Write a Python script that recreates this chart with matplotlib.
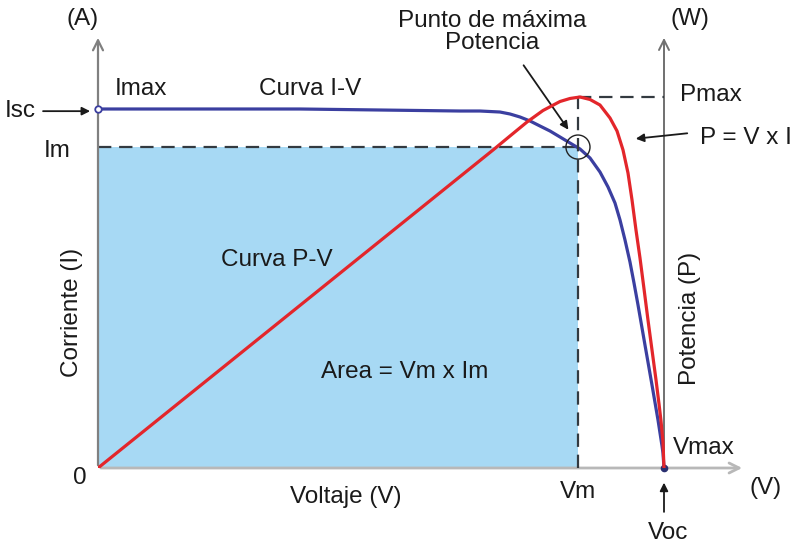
import numpy as np
import matplotlib
matplotlib.use('Agg')
import matplotlib.pyplot as plt

plt.rcParams['font.family'] = ['Liberation Sans', 'DejaVu Sans']

# curve I-V (voltage in % of Voc, current in % of Isc)
v_iv = [0, 35.69, 63.96, 67.49, 71.02, 72.79, 74.56, 76.33, 78.09, 79.86, 81.63, 83.39, 85.16,
        86.93, 88.69, 90.11, 91.34, 92.23, 93.11, 93.99, 94.70, 95.41, 96.64, 97.88, 98.94, 99.65,
        99.82, 100]
i_iv = [100, 100, 99.44, 99.44, 99.16, 98.61, 97.77, 96.66, 95.26, 93.87, 92.20, 90.53, 88.86,
        86.35, 82.45, 78.27, 73.82, 69.08, 63.51, 57.38, 51.53, 45.40, 34.26, 23.12, 13.37, 6.13,
        4.18, 0]

# curve P-V (power in % of Pmax)
v_pv = [0, 69.79, 72.79, 75.80, 78.62, 81.63, 83.39, 85.16, 86.93, 88.69, 90.46, 91.70, 92.76,
        93.64, 94.35, 95.05, 95.76, 96.47, 97.17, 97.88, 98.59, 99.12, 99.47, 99.82, 100]
p_pv = [0, 85.71, 89.49, 93.26, 96.36, 98.79, 99.60, 100, 99.33, 97.84, 94.34, 90.84, 85.71,
        79.51, 72.24, 64.15, 56.60, 48.25, 39.89, 31.81, 23.72, 17.25, 12.67, 7.01, 0]

Vm, Im = 84.8, 89.4
Pmax = 100
Voc, Isc = 100, 100

fig = plt.figure(figsize=(8, 5.5), dpi=100)
ax = fig.add_axes([98/800, (550-468)/550, (750-98)/800, (468-30)/550])
ax.set_xlim(0, (750-98)/5.66)
ax.set_ylim(0, (468-30)/3.59)
ax2 = ax.twinx()
ax2.set_position(ax.get_position())
ax2.set_ylim(0, (468-30)/3.71)
for a in (ax, ax2):
    a.axis('off')

txt = dict(fontsize=17.5, color='#1a1a1a', clip_on=False)

# area Vm x Im
ax.fill_between([0, Vm], 0, Im, color='#a7d9f4', zorder=1, lw=0)
dash = dict(color='#333a40', lw=1.6, ls=(0, (6, 3.5)), zorder=2)
ax.plot([0, Vm], [Im, Im], **dash)
ax2.plot([Vm, Vm], [0, Pmax], **dash)
ax2.plot([Vm, Voc], [Pmax, Pmax], **dash)

# curves
ax.plot(v_iv, i_iv, color='#3b3fa0', lw=2.3, zorder=4, solid_joinstyle='round')
ax2.plot(v_pv, p_pv, color='#e3262b', lw=2.3, zorder=3, solid_joinstyle='round')

# axes with arrows
ax.annotate('', xy=(0, 120.6), xytext=(0, 0),
            arrowprops=dict(arrowstyle='->', color='#808080', lw=1.6, mutation_scale=18))
ax.annotate('', xy=(114.3, 0), xytext=(0, 0),
            arrowprops=dict(arrowstyle='->', color='#b8b8b8', lw=2.0, mutation_scale=18))
ax.annotate('', xy=(Voc, 120.6), xytext=(Voc, 0),
            arrowprops=dict(arrowstyle='->', color='#707070', lw=1.4, mutation_scale=18))

# points
ax.scatter([Vm], [Im], s=300, facecolor='none', edgecolor='#222', lw=1.0, zorder=6)
ax.scatter([0], [Isc], s=22, facecolor='white', edgecolor='#3b3fa0', lw=1.3, zorder=6, clip_on=False)
ax.scatter([Voc], [0], s=20, color='#2a2f70', zorder=6, clip_on=False)

# labels
ax.text(-2.8, 125, '(A)', ha='center', va='center', **txt)
ax.text(104.6, 125, '(W)', ha='center', va='center', **txt)
ax.text(69.6, 121.4, 'Punto de máxima\nPotencia', ha='center', va='center', linespacing=1.0, **txt)
ax.text(3.0, 105.6, 'Imax', ha='left', va='center', **txt)
ax.text(37.5, 105.6, 'Curva I-V', ha='center', va='center', **txt)
ax.text(-16.4, 99.4, 'Isc', ha='left', va='center', **txt)
ax.text(-7.2, 88.3, 'Im', ha='center', va='center', **txt)
ax.text(102.8, 104, 'Pmax', ha='left', va='center', **txt)
ax.text(106.4, 91.9, 'P = V x I', ha='left', va='center', **txt)
ax.text(31.6, 57.8, 'Curva P-V', ha='center', va='center', **txt)
ax.text(54.2, 26.7, 'Area = Vm x Im', ha='center', va='center', **txt)
ax.text(-4.6, 43.3, 'Corriente (I)', ha='center', va='center', rotation=90, **txt)
ax.text(104.6, 41.7, 'Potencia (P)', ha='center', va='center', rotation=90, **txt)
ax.text(-3.2, -2.8, '0', ha='center', va='center', **txt)
ax.text(43.8, -8, 'Voltaje (V)', ha='center', va='center', **txt)
ax.text(Vm, -6.7, 'Vm', ha='center', va='center', **txt)
ax.text(101.6, 5.5, 'Vmax', ha='left', va='center', **txt)
ax.text(118, -5.6, '(V)', ha='center', va='center', **txt)
ax.text(100.7, -18, 'Voc', ha='center', va='center', **txt)

# pointer arrows
arr = dict(arrowstyle='-|>', color='#1a1a1a', lw=1.3, mutation_scale=12)
ax.annotate('', xy=(-0.9, 99.4), xytext=(-10.2, 99.4), arrowprops=arr, annotation_clip=False)
ax.annotate('', xy=(Voc, -3.3), xytext=(Voc, -13), arrowprops=arr, annotation_clip=False)
ax.annotate('', xy=((570-98)/5.66, (468-132)/3.59), xytext=((522-98)/5.66, (468-63)/3.59),
            arrowprops=arr, annotation_clip=False)
ax.annotate('', xy=((633-98)/5.66, (468-139)/3.59), xytext=((690-98)/5.66, (468-133)/3.59),
            arrowprops=arr, annotation_clip=False)

fig.savefig('out.png', dpi=100)
